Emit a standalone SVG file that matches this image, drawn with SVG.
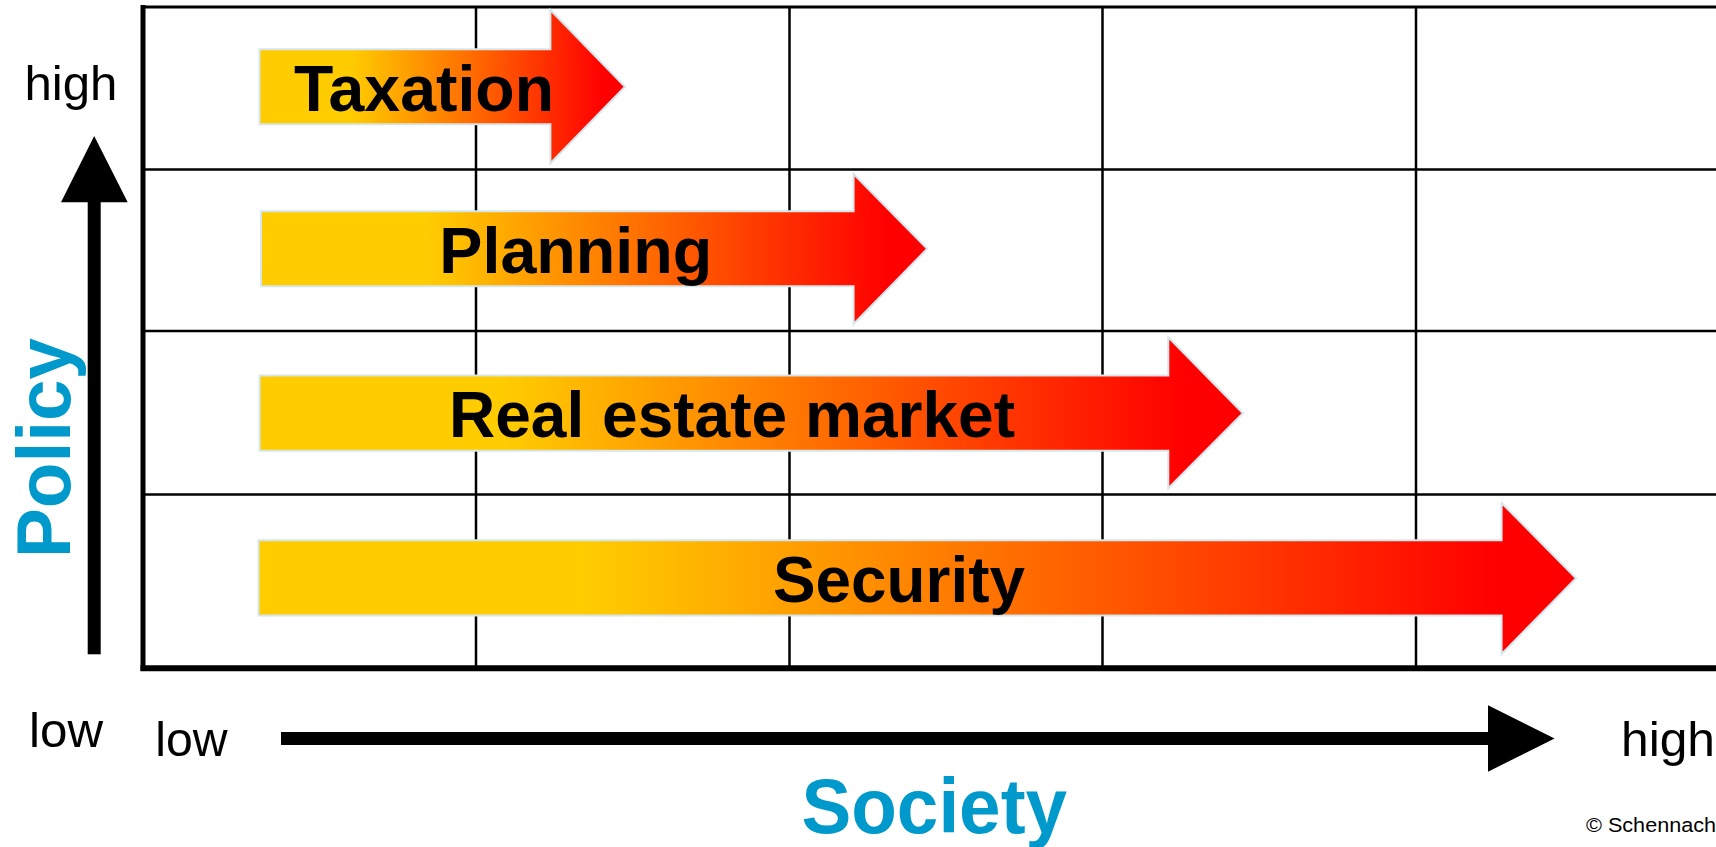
<svg xmlns="http://www.w3.org/2000/svg" width="1716" height="847" viewBox="0 0 1716 847">
<style>
.grid{stroke:#000;stroke-width:2.5;fill:none}
.border{stroke:#000;fill:none}
.band{stroke:#d5e6ec;stroke-width:2;stroke-linejoin:miter}
.lbl{font-family:"Liberation Sans",Arial,Helvetica,sans-serif;font-weight:bold;font-size:65px;fill:#000}
.axis{font-family:"Liberation Sans",Arial,Helvetica,sans-serif;font-size:48px;fill:#000}
.title{font-family:"Liberation Sans",Arial,Helvetica,sans-serif;font-weight:bold;fill:#0099cc}
.copy{font-family:"Liberation Sans",Arial,Helvetica,sans-serif;font-size:20.5px;fill:#000}
.ax{fill:#000}
</style>
<defs>
<linearGradient id="heat" x1="0" y1="0" x2="1" y2="0">
<stop offset="0" stop-color="#ffcc00"/>
<stop offset="0.25" stop-color="#ffcc00"/>
<stop offset="0.6" stop-color="#ff6600"/>
<stop offset="0.94" stop-color="#ff0000"/>
<stop offset="1" stop-color="#ff0000"/>
</linearGradient>
</defs>
<rect width="1716" height="847" fill="#fff"/>
<g id="grid">
<line class="grid" x1="476" y1="7" x2="476" y2="668"/>
<line class="grid" x1="789.5" y1="7" x2="789.5" y2="668"/>
<line class="grid" x1="1102.5" y1="7" x2="1102.5" y2="668"/>
<line class="grid" x1="1416" y1="7" x2="1416" y2="668"/>
<line class="grid" x1="143" y1="169.5" x2="1716" y2="169.5"/>
<line class="grid" x1="143" y1="331" x2="1716" y2="331"/>
<line class="grid" x1="143" y1="494.5" x2="1716" y2="494.5"/>
<line class="border" stroke-width="3" x1="141" y1="7" x2="1716" y2="7"/>
<line class="border" stroke-width="5" x1="143" y1="5" x2="143" y2="671"/>
<line class="border" stroke-width="6" x1="140.5" y1="668.3" x2="1716" y2="668.3"/>
</g>
<g id="taxation">
<path class="band" fill="url(#heat)" d="M259.5,49.3 L550.4,49.3 L550.4,10 L625,86.7 L550.4,163.3 L550.4,124.3 L259.5,124.3 Z"/>
<text class="lbl" x="294" y="111" textLength="260" lengthAdjust="spacingAndGlyphs">Taxation</text>
</g>
<g id="planning">
<path class="band" fill="url(#heat)" d="M261,211.3 L853.6,211.3 L853.6,174 L927.2,248.8 L853.6,324 L853.6,286.3 L261,286.3 Z"/>
<text class="lbl" x="439.3" y="273" textLength="273" lengthAdjust="spacingAndGlyphs">Planning</text>
</g>
<g id="real-estate-market">
<path class="band" fill="url(#heat)" d="M259.6,375.5 L1168.3,375.5 L1168.3,337.3 L1242.9,413.3 L1168.3,488.3 L1168.3,450.7 L259.6,450.7 Z"/>
<text class="lbl" x="449" y="437.3" textLength="566" lengthAdjust="spacingAndGlyphs">Real estate market</text>
</g>
<g id="security">
<path class="band" fill="url(#heat)" d="M258.5,540.3 L1501.6,540.3 L1501.6,503 L1576,578.3 L1501.6,654 L1501.6,615.5 L258.5,615.5 Z"/>
<text class="lbl" x="773" y="602.3" textLength="252" lengthAdjust="spacingAndGlyphs">Security</text>
</g>
<g id="connectors">
<g id="policy-axis">
<rect class="ax" x="87.7" y="200" width="13" height="454.3"/>
<polygon class="ax" points="94.2,136 127.7,202.3 61,202.3"/>
</g>
<g id="society-axis">
<rect class="ax" x="281" y="732" width="1209" height="13"/>
<polygon class="ax" points="1488,705.3 1554.6,738.4 1488,771.7"/>
</g>
</g>
<g id="axis-labels">
<text class="axis" x="24.4" y="100" textLength="93" lengthAdjust="spacingAndGlyphs">high</text>
<text class="axis" x="29" y="746.7" textLength="74" lengthAdjust="spacingAndGlyphs">low</text>
<text class="axis" x="155.3" y="755.7" textLength="72.3" lengthAdjust="spacingAndGlyphs">low</text>
<text class="axis" x="1621" y="756" textLength="94" lengthAdjust="spacingAndGlyphs">high</text>
<text class="title" font-size="76" transform="translate(69.6,558) rotate(-90)" x="0" y="0" textLength="220" lengthAdjust="spacingAndGlyphs">Policy</text>
<text class="title" font-size="78" x="801.5" y="833.3" textLength="265.5" lengthAdjust="spacingAndGlyphs">Society</text>
<text class="copy" x="1586" y="832" textLength="130" lengthAdjust="spacingAndGlyphs">© Schennach</text>
</g>
</svg>
